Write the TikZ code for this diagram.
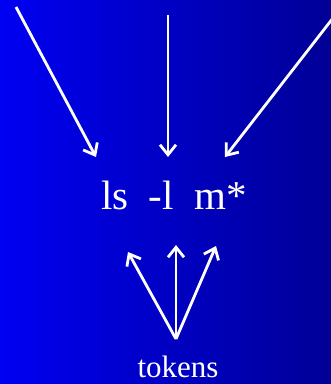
\documentclass[tikz,border=0pt]{standalone}
\usepackage{fontspec}
\setmainfont{Liberation Serif}
\usetikzlibrary{arrows.meta}
\definecolor{bgleft}{RGB}{0,0,242}
\definecolor{bgright}{RGB}{0,0,150}
\tikzset{
  arr/.style={draw=white, line width=2.8pt, -{Straight Barb[length=10pt,width=16pt,line width=2.8pt]}},
  lbl/.style={text=white, inner sep=0pt, anchor=base}
}
\begin{document}
\begin{tikzpicture}[x=1pt,y=-1pt]
\shade[left color=bgleft, right color=bgright] (0,0) rectangle (331,384);
\useasboundingbox (0,0) rectangle (331,384);
\node[lbl, font=\fontsize{41}{44}\selectfont] (cmd) at (174,209) {ls\ \ -l\ \ m*};
\node[lbl, font=\fontsize{31}{34}\selectfont] (tokens) at (178,377) {tokens};
% top arrows
\coordinate (s1) at (16,7);
\coordinate (s2) at (168,15);
\coordinate (s3) at (333,18);
\coordinate (e1) at (96,157);
\coordinate (e2) at (168,157);
\coordinate (e3) at (225,157);
\draw[arr] (s1) -- (e1);
\draw[arr] (s2) -- (e2);
\draw[arr] (s3) -- (e3);
% bottom arrows
\coordinate (apex) at (176,339);
\coordinate (b1) at (128,252);
\coordinate (b2) at (176,245);
\coordinate (b3) at (216,246);
\draw[arr] (apex) -- (b1);
\draw[arr] (apex) -- (b2);
\draw[arr] (apex) -- (b3);
\end{tikzpicture}
\end{document}
